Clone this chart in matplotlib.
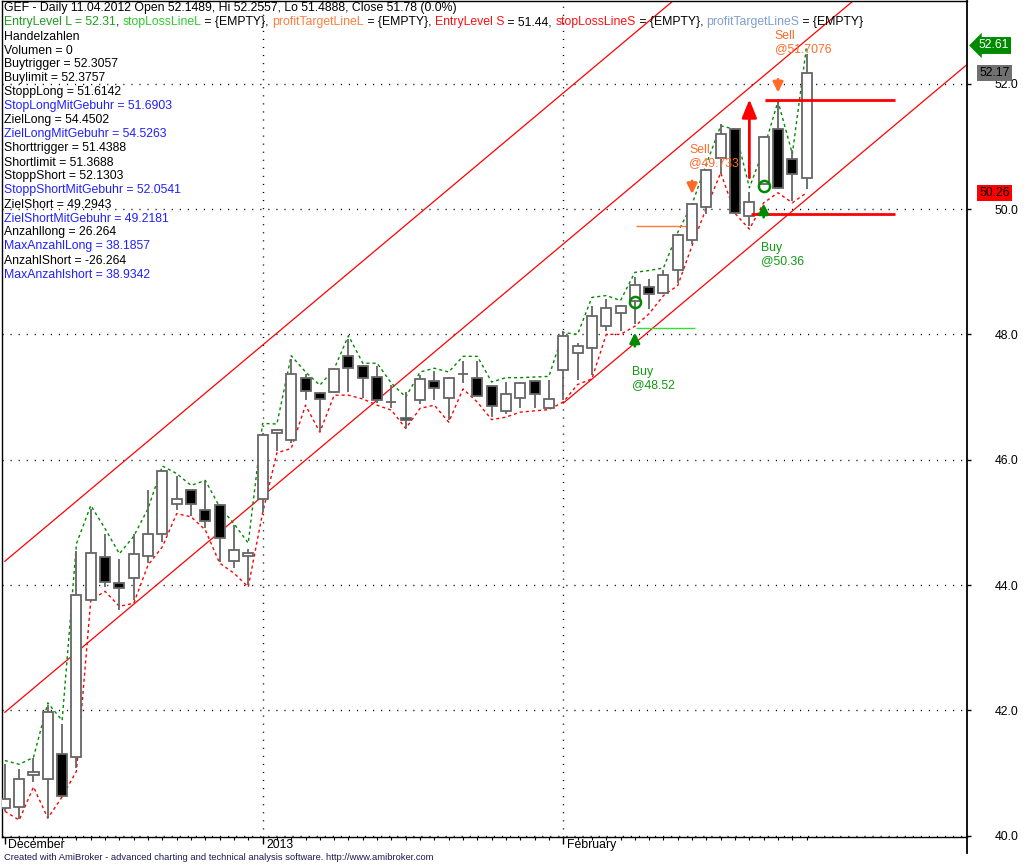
import numpy as np
import matplotlib.pyplot as plt
from matplotlib.lines import Line2D
from matplotlib.transforms import blended_transform_factory

plt.rcParams['font.family'] = ['Liberation Sans', 'DejaVu Sans']

# Kursdaten (Tageskerzen)
opens = [40.45, 40.46, 40.97, 40.90, 41.31, 41.26, 43.76, 44.44, 44.04, 44.12,
         44.47, 44.81, 45.30, 45.51, 45.20, 45.28, 44.39, 44.47, 45.38, 46.43,
         46.31, 47.31, 47.07, 47.08, 47.65, 47.50, 47.32, 46.92, 46.66, 46.96,
         47.26, 46.98, 47.37, 47.31, 47.18, 46.78, 46.98, 47.26, 46.82, 47.43,
         47.70, 47.79, 48.13, 48.34, 48.54, 48.75, 48.66, 49.02, 49.51, 50.04,
         50.81, 51.27, 49.89, 50.40, 51.27, 50.80, 50.50]
closes = [40.59, 40.91, 41.02, 41.97, 40.64, 43.84, 44.51, 44.05, 43.95, 44.49,
          44.82, 45.82, 45.38, 45.30, 45.03, 44.75, 44.56, 44.51, 46.40, 46.48,
          47.37, 47.10, 46.97, 47.45, 47.46, 47.31, 46.95, 46.92, 46.64, 47.29,
          47.15, 47.31, 47.37, 47.02, 46.86, 47.05, 47.23, 47.05, 46.97, 47.98,
          47.81, 48.30, 48.42, 48.46, 48.79, 48.65, 48.95, 49.59, 50.08, 50.63,
          51.19, 49.93, 50.12, 51.15, 50.33, 50.56, 52.17]
highs = [41.15, 41.07, 41.24, 42.09, 41.79, 44.54, 45.21, 44.82, 44.41, 44.82,
         45.51, 45.84, 45.74, 45.52, 45.66, 45.30, 44.96, 44.57, 46.42, 46.49,
         47.60, 47.37, 47.08, 47.46, 47.93, 47.51, 47.49, 47.19, 47.08, 47.35,
         47.41, 47.32, 47.58, 47.58, 47.19, 47.24, 47.24, 47.27, 47.28, 48.06,
         47.86, 48.46, 48.57, 48.47, 48.91, 48.89, 49.03, 49.60, 50.09, 50.64,
         51.35, 51.28, 50.28, 51.16, 51.72, 50.95, 52.47]
lows = [40.40, 40.27, 40.85, 40.29, 40.62, 41.08, 43.74, 43.97, 43.61, 43.76,
        44.36, 44.69, 45.20, 45.11, 44.91, 44.37, 44.27, 44.00, 45.17, 46.14,
        46.26, 46.96, 46.44, 47.07, 47.08, 46.99, 46.90, 46.82, 46.50, 46.89,
        46.95, 46.63, 47.22, 47.01, 46.68, 46.73, 46.82, 46.83, 46.81, 46.95,
        47.27, 47.35, 48.06, 48.06, 48.17, 48.41, 48.65, 48.82, 49.44, 49.92,
        50.56, 49.92, 49.73, 50.39, 50.32, 50.13, 50.32]

# gestrichelte Linien oben / unten
green_line = [41.20, 41.14, 41.25, 42.12, 41.84, 44.66, 45.27, 44.90, 44.50, 44.78,
              45.22, 45.90, 45.78, 45.59, 45.67, 45.25, 44.98, 44.67, 46.58, 46.57,
              47.66, 47.40, 47.19, 47.45, 47.98, 47.54, 47.54, 47.22, 47.00, 47.40,
              47.46, 47.40, 47.65, 47.65, 47.24, 47.31, 47.31, 47.32, 47.33, 48.03,
              48.00, 48.59, 48.62, 48.54, 48.99, 49.02, 49.06, 49.63, 50.08, 50.72,
              51.33, 51.27, 50.34, 50.95, 51.72, 50.88, 52.61]
red_line = [40.39, 40.25, 40.78, 40.28, 40.62, 41.03, 43.76, 43.90, 43.66, 43.71,
            44.32, 44.61, 45.14, 45.09, 44.88, 44.35, 44.19, 43.97, 45.15, 46.11,
            46.18, 46.87, 46.44, 47.03, 47.03, 46.97, 46.87, 46.79, 46.50, 46.82,
            46.87, 46.60, 47.13, 46.92, 46.64, 46.68, 46.76, 46.78, 46.80, 46.92,
            47.20, 47.29, 48.00, 48.00, 48.13, 48.33, 48.62, 48.78, 49.42, 50.02,
            50.58, 49.93, 49.68, 50.10, 50.26, 50.10, 50.26]

# Trendkanal (Wert bei Bar 0, Steigung pro Bar, Startbar)
channel_start = [44.38, 41.97, 39.43]
channel_from = [0, 0, 39]
channel_slope = 0.1916

# Signale
buy_bars = [44, 53]
buy_prices = [48.52, 50.36]
buy_arrow = [(47.81, 48.03), (49.87, 50.09)]
buy_text_y = [47.29, 49.27]
sell_bars = [48, 54]
sell_prices = [49.733, 51.7076]
sell_arrow = [(50.45, 50.24), (52.07, 51.86)]
sell_text_y = [50.84, 52.66]

month_bars = [0, 18, 39]
month_names = ['December', '2013', 'February']
yticks = [40, 42, 44, 46, 48, 50, 52]

title1 = 'GEF - Daily 11.04.2012 Open 52.1489, Hi 52.2557, Lo 51.4888, Close 51.78 (0.0%)'
title2 = [('EntryLevel L = 52.31', '#1e9e1e'), (', ', 'black'),
          ('stopLossLineL', '#2ecc2e'), (' = {EMPTY}, ', 'black'),
          ('profitTargetLineL', '#ff7f3f'), (' = {EMPTY}, ', 'black'),
          ('EntryLevel S', '#ff1010'), (' = 51.44, ', 'black'),
          ('stopLossLineS', '#ff1010'), (' = {EMPTY}, ', 'black'),
          ('profitTargetLineS', '#7f9fd0'), (' = {EMPTY}', 'black')]
info_lines = [('Handelzahlen', 'black'), ('Volumen = 0', 'black'),
              ('Buytrigger = 52.3057', 'black'), ('Buylimit = 52.3757', 'black'),
              ('StoppLong = 51.6142', 'black'), ('StopLongMitGebuhr = 51.6903', '#2020ff'),
              ('ZielLong = 54.4502', 'black'), ('ZielLongMitGebuhr = 54.5263', '#2020ff'),
              ('Shorttrigger = 51.4388', 'black'), ('Shortlimit = 51.3688', 'black'),
              ('StoppShort = 52.1303', 'black'), ('StoppShortMitGebuhr = 52.0541', '#2020ff'),
              ('ZielShort = 49.2943', 'black'), ('ZielShortMitGebuhr = 49.2181', '#2020ff'),
              ('Anzahllong = 26.264', 'black'), ('MaxAnzahlLong = 38.1857', '#2020ff'),
              ('AnzahlShort = -26.264', 'black'), ('MaxAnzahlshort = 38.9342', '#2020ff')]

W, H = 1028, 865
fs = 8.8
fig = plt.figure(figsize=(W / 100, H / 100), dpi=100)
ax = fig.add_axes([2 / W, (H - 837) / H, 965 / W, 836 / H])
ax.set_xlim(-0.2, 67.2)
ax.set_ylim(39.98, 53.32)

dots = (0, (0.8, 5.0))
for y in yticks:
    ax.axhline(y, color='black', lw=1, linestyle=dots, zorder=1)
for b in month_bars[1:]:
    ax.axvline(b, color='black', lw=1, linestyle=dots, zorder=1)

# Kanal
for c0, b0 in zip(channel_start, channel_from):
    xs = np.array([b0, 70])
    ax.plot(xs, c0 + channel_slope * xs, color='red', lw=0.9, zorder=2)

x = np.arange(len(opens))
ax.plot(x, green_line, color='#008a00', lw=1, linestyle=(0, (2.2, 2.2)), zorder=2)
ax.plot(x, red_line, color='#ff0000', lw=1, linestyle=(0, (2.2, 2.2)), zorder=2)

# Kerzen
ax.vlines(x, lows, highs, color='#666666', lw=1.3, zorder=3)
o = np.array(opens)
c = np.array(closes)
fill = ['white' if cc >= oo else 'black' for oo, cc in zip(opens, closes)]
ax.bar(x, np.abs(c - o), bottom=np.minimum(o, c), width=0.7, color=fill,
       edgecolor='#666666', linewidth=1.3, zorder=4)

# Hilfslinien
ax.hlines([48.11, 49.73], 44.07, 48.2, colors=['#33dd33', '#ff7a3a'], lw=1, zorder=2)
ax.hlines(51.72, 53.1, 54.1, colors='#ff7a3a', lw=1, zorder=2)
ax.hlines([51.74, 49.92], [53.1, 52.1], 62.2, colors='red', lw=2, zorder=5)

# roter Pfeil
ax.annotate('', xy=(52, 51.75), xytext=(52, 50.50),
            arrowprops=dict(arrowstyle='-|>,head_width=0.45,head_length=1.1',
                            color='red', lw=2, shrinkA=0, shrinkB=0), zorder=6)

for b, p, (t0, t1), ty in zip(buy_bars, buy_prices, buy_arrow, buy_text_y):
    ax.plot(b, p, 'o', ms=8, mfc='none', mec='#008a00', mew=1.8, zorder=6)
    ax.annotate('', xy=(b, t1), xytext=(b, t0),
                arrowprops=dict(arrowstyle='-|>,head_width=0.3,head_length=0.6',
                                color='#008a00', lw=2, shrinkA=0, shrinkB=0), zorder=6)
    ax.text(b - 0.22, ty, 'Buy\n@%s' % p, color='#119911', fontsize=fs,
            va='center', ha='left', linespacing=1.1, zorder=7)

for b, p, (t0, t1), ty in zip(sell_bars, sell_prices, sell_arrow, sell_text_y):
    ax.annotate('', xy=(b, t1), xytext=(b, t0),
                arrowprops=dict(arrowstyle='-|>,head_width=0.3,head_length=0.6',
                                color='#ff6a28', lw=2, shrinkA=0, shrinkB=0), zorder=6)
    ax.text(b - 0.22, ty, 'Sell\n@%s' % p, color='#ff6a28', fontsize=fs,
            va='center', ha='left', linespacing=1.1, zorder=7)

# Achsen
for s in ['left', 'top', 'bottom']:
    ax.spines[s].set_linewidth(1)
ax.spines['right'].set_linewidth(1.3)
ax.yaxis.tick_right()
ax.set_yticks(yticks)
ax.set_yticklabels(['%.1f' % v for v in yticks])
ax.tick_params(axis='y', direction='out', length=3, width=1, pad=17,
               labelsize=fs, colors='black')
ax.set_xticks(month_bars)
ax.set_xticklabels([])
ax.set_xticks(x, minor=True)
ax.tick_params(axis='x', which='major', direction='out', length=5, width=1)
ax.tick_params(axis='x', which='minor', direction='out', length=2, width=0.8)
tr = blended_transform_factory(ax.transData, ax.transAxes)
for b, name in zip(month_bars, month_names):
    ax.annotate(name, xy=(b, 0), xycoords=tr, xytext=(2.5, -5.5),
                textcoords='offset points', ha='left', va='center', fontsize=fs)
fig.add_artist(Line2D([967 / W, 967 / W], [(H - 837) / H, (H - 853) / H],
                      color='black', lw=1.3))

# Preisschilder rechts
ytr = blended_transform_factory(ax.transAxes, ax.transData)
ax.annotate('%.2f' % green_line[-1], xy=(1, green_line[-1]), xycoords=ytr,
            xytext=(19, 0), textcoords='offset points', ha='center', va='center',
            fontsize=fs, color='white', annotation_clip=False,
            bbox=dict(boxstyle='larrow,pad=0.2', fc='#008a00', ec='none'))
ax.annotate('%.2f' % closes[-1], xy=(1, closes[-1]), xycoords=ytr,
            xytext=(20, 0), textcoords='offset points', ha='center', va='center',
            fontsize=fs, color='black', annotation_clip=False,
            bbox=dict(boxstyle='square,pad=0.18', fc='#707070', ec='none'))
ax.annotate('%.2f' % red_line[-1], xy=(1, red_line[-1]), xycoords=ytr,
            xytext=(20, 0), textcoords='offset points', ha='center', va='center',
            fontsize=fs, color='black', annotation_clip=False,
            bbox=dict(boxstyle='square,pad=0.18', fc='#ff0000', ec='none'))

# Titel und Kennzahlen
fig.text(4 / W, 1 - 8.5 / H, title1, fontsize=fs, va='center', ha='left')
prev = fig.text(4 / W, 1 - 22.5 / H, title2[0][0], color=title2[0][1],
                fontsize=fs, va='center', ha='left')
for txt, col in title2[1:]:
    prev = ax.annotate(txt, xy=(1, 0), xycoords=prev, ha='left', va='bottom',
                       color=col, fontsize=fs, annotation_clip=False)
for k, (txt, col) in enumerate(info_lines):
    fig.text(4 / W, 1 - (36.5 + 14 * k) / H, txt, color=col, fontsize=fs,
             va='center', ha='left')

fig.text(4 / W, 1 - 858 / H,
         'Created with AmiBroker - advanced charting and technical analysis software. http://www.amibroker.com',
         fontsize=6.75, color='#1a1a50', va='center', ha='left')

fig.savefig('out.png', dpi=100)
